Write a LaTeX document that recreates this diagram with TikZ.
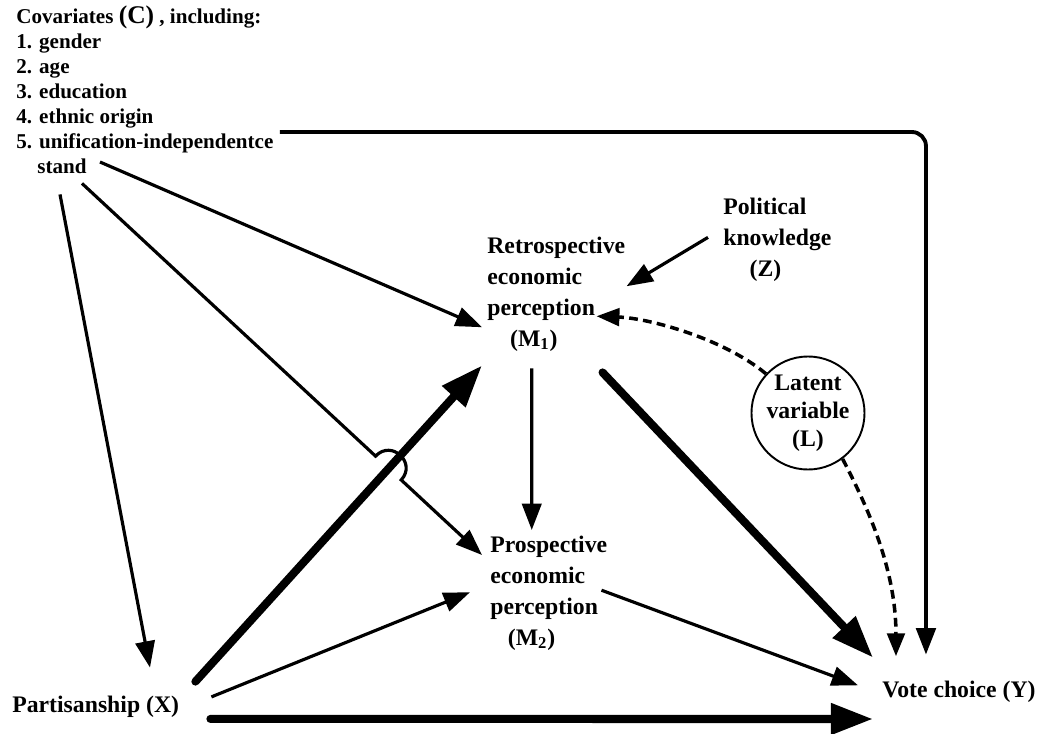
\documentclass[tikz,border=0pt]{standalone}
\usepackage{fontspec}
\setmainfont{Liberation Serif}
\usetikzlibrary{calc}
\usetikzlibrary{arrows.meta}

\begin{document}
\begin{tikzpicture}[
		x=0.02cm, y=-0.02cm,
		lbl/.style={font=\fontsize{13.5}{17.5}\selectfont\bfseries, inner sep=0pt, align=left},
		arr/.style={line width=1.8pt, -{Triangle[length=15pt, width=11pt]}},
		bigarr/.style={line width=4.6pt, line cap=round, -{Triangle[length=24pt, width=17pt]}},
		latentarr/.style={line width=2pt, dash pattern=on 5pt off 3pt, -{Triangle[length=13pt, width=10pt]}}
	]
	\useasboundingbox (0,0) rectangle (1046,734);

	\def\jumpA{0.734} % where the line jumps over X -> M1
	\def\jumpB{0.798}

	% the variables
	\node[lbl, anchor=north west, font=\fontsize{12}{14.3}\selectfont\bfseries] (cov) at (16,5)
		{Covariates {\fontsize{14.5}{14.3}\selectfont(C)} , including:\\1. gender\\2. age\\3. education\\4. ethnic origin\\5. unification-independentce\\\phantom{5.\ }stand};
	\node[lbl, anchor=north west] (M1) at (487,237) {Retrospective\\economic\\perception\\\hspace{13pt}(M\textsubscript{1})};
	\node[lbl, anchor=north west] (M2) at (490,536) {Prospective\\economic\\perception\\\hspace{10pt}(M\textsubscript{2})};
	\node[lbl, anchor=north west] (Z) at (723,198) {Political\\knowledge\\\hspace{15pt}(Z)};
	\node[lbl, align=center, circle, draw, line width=1.1pt, minimum size=2.24cm, font=\fontsize{13.5}{16}\selectfont\bfseries] (L) at (808,413) {Latent\\variable\\(L)};
	\node[lbl, anchor=base west] (X) at (12,712) {Partisanship (X)};
	\node[lbl, anchor=base west] (Y) at (882,697) {Vote choice (Y)};

	% covariates
	\draw[arr, line width=2.2pt, rounded corners=8pt] ([shift={(6,127)}]cov.north east) -| ([shift={(-33,-25.6)}]Y.north);
	\draw[arr] ([shift={(84,157)}]cov.north west) -- ([shift={(-5,33)}]M1.west);
	\draw[arr] ([shift={(44,20)}]cov.south west) -- ([shift={(138,-27.6)}]X.north west);

	% covariates -> M2, jumping over X -> M1
	\coordinate (cs) at ([shift={(66,9)}]cov.south west);
	\coordinate (ce) at ([shift={(-8,19)}]M2.north west);
	\coordinate (ja) at ($(cs)!\jumpA!(ce)$);
	\coordinate (jb) at ($(cs)!\jumpB!(ce)$);
	\draw[arr] (cs) -- (ja) .. controls ($(ja)!0.667!90:(jb)$) and ($(jb)!0.667!-90:(ja)$) .. (jb) -- (ce);

	% mediators
	\draw[arr] ([shift={(-15,-2.5)}]Z.west) -- ([shift={(1,-8)}]M1.east);
	\draw[arr] ([shift={(-24.5,17)}]M1.south) -- ([shift={(-17,-6)}]M2.north);
	\draw[bigarr] ([shift={(-23,21)}]M1.south east) -- ([shift={(-9,-22.6)}]Y.north west);
	\draw[arr] ([shift={(-6,-3)}]M2.east) -- ([shift={(-24,-6)}]Y.west);

	% latent variable
	\draw[latentarr] (L.137) .. controls +(-42,-35) and +(53,2) .. ([shift={(-29,22)}]M1.east);
	\draw[latentarr] (L.-53) .. controls +(25,48) and +(0,-87) .. ([shift={(-63,-24)}]Y.north);

	% partisanship
	\draw[bigarr] ([shift={(16,-13.6)}]X.north east) -- ([shift={(-5,14)}]M1.south west);
	\draw[arr] ([shift={(32,-9.4)}]X.east) -- ([shift={(-20,-1)}]M2.west);
	\draw[bigarr] ([shift={(31,12.6)}]X.east) -- ([shift={(-9,27.7)}]Y.west);

\end{tikzpicture}
\end{document}
